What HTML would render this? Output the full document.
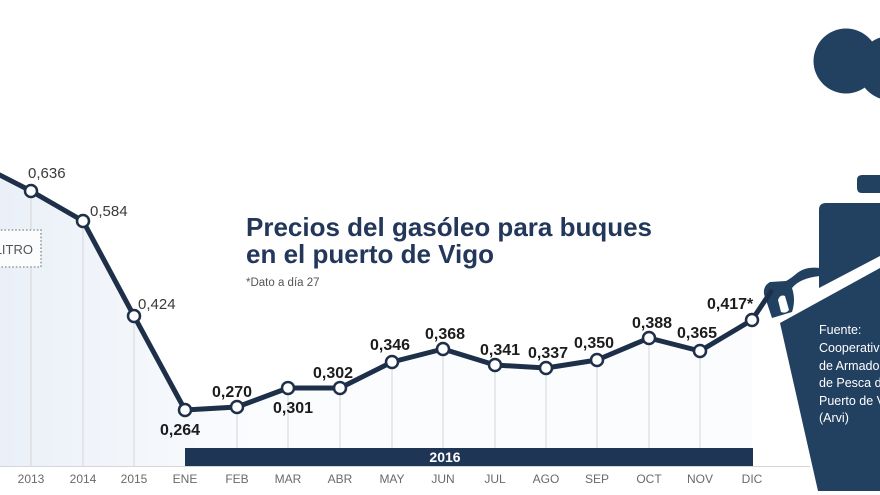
<!DOCTYPE html>
<html><head><meta charset="utf-8"><style>
html,body{margin:0;padding:0;background:#fff;}
svg{display:block;}
</style></head><body>
<svg width="880" height="495" viewBox="0 0 880 495" xmlns="http://www.w3.org/2000/svg" font-family="'Liberation Sans', sans-serif">
<defs>
<linearGradient id="area" gradientUnits="userSpaceOnUse" x1="0" y1="0" x2="260" y2="0">
<stop offset="0" stop-color="#eaf0f8"/>
<stop offset="0.6" stop-color="#f4f7fb"/>
<stop offset="1" stop-color="#fbfcfe"/>
</linearGradient>
</defs>
<rect width="880" height="495" fill="#fff"/>
<!-- area -->
<polygon fill="url(#area)" points="-10,170 31,191 83,221 134,316 185,410 237,407 288,388 340,388 392,362 443,349 495,365 546,368 597,360 649,338 700,351 752,320 752,466 -10,466"/>
<!-- gridlines -->
<g stroke="#d6d6d6" stroke-width="1">
<line x1="31" y1="191" x2="31" y2="466"/>
<line x1="83" y1="221" x2="83" y2="466"/>
<line x1="134" y1="316" x2="134" y2="466"/>
<line x1="237" y1="407" x2="237" y2="448"/>
<line x1="288" y1="388" x2="288" y2="448"/>
<line x1="340" y1="388" x2="340" y2="448"/>
<line x1="392" y1="362" x2="392" y2="448"/>
<line x1="443" y1="349" x2="443" y2="448"/>
<line x1="495" y1="365" x2="495" y2="448"/>
<line x1="546" y1="368" x2="546" y2="448"/>
<line x1="597" y1="360" x2="597" y2="448"/>
<line x1="649" y1="338" x2="649" y2="448"/>
<line x1="700" y1="351" x2="700" y2="448"/>
<line x1="0" y1="466.5" x2="810" y2="466.5"/>
</g>
<!-- ITRO box -->
<rect x="-10" y="230" width="51" height="37" fill="#fbfcfe" stroke="#9a9a9a" stroke-width="1.6" stroke-dasharray="1.6 2"/>
<text x="33" y="254" text-anchor="end" font-size="13" fill="#555">LITRO</text>
<!-- 2016 bar -->
<rect x="185" y="448" width="568" height="18" fill="#1f3556"/>
<text x="445" y="462" text-anchor="middle" font-size="14" font-weight="bold" fill="#fff">2016</text>
<!-- pump -->
<g fill="#22405f">
<circle cx="846" cy="61" r="32.5"/>
<circle cx="890" cy="68" r="32"/>
<path d="M862,175 H880 V193 H862 Q857,193 857,188 V180 Q857,175 862,175 Z"/>
<path d="M826,203 H880 V256 L819,288 V210 Q819,203 826,203 Z"/>
<path d="M780,323 L880,268 V491 H818 Z"/>
<path d="M820,268 Q805,266 796,274 Q790,279 786,281 L770,282 Q763,286 764,294 L772,318 L792,312 Q796,300 792,288 Q800,278 820,276 Z"/>
</g>
<path d="M778,300 Q780,294 785,296 L789,310 Q786,314 781,312 Z" fill="#fff"/>
<!-- main line -->
<polyline fill="none" stroke="#1e3049" stroke-width="5" stroke-linejoin="round" points="-10,170 31,191 83,221 134,316 185,410 237,407 288,388 340,388 392,362 443,349 495,365 546,368 597,360 649,338 700,351 752,320 772,290"/>
<g fill="#fff" stroke="#1e3049" stroke-width="2.5">
<circle cx="31" cy="191" r="6"/>
<circle cx="83" cy="221" r="6"/>
<circle cx="134" cy="316" r="6"/>
<circle cx="185" cy="410" r="6"/>
<circle cx="237" cy="407" r="6"/>
<circle cx="288" cy="388" r="6"/>
<circle cx="340" cy="388" r="6"/>
<circle cx="392" cy="362" r="6"/>
<circle cx="443" cy="349" r="6"/>
<circle cx="495" cy="365" r="6"/>
<circle cx="546" cy="368" r="6"/>
<circle cx="597" cy="360" r="6"/>
<circle cx="649" cy="338" r="6"/>
<circle cx="700" cy="351" r="6"/>
<circle cx="752" cy="320" r="6"/>
</g>
<!-- year value labels -->
<g font-size="15" fill="#3a3a3a">
<text x="28" y="178">0,636</text>
<text x="90" y="216">0,584</text>
<text x="138" y="309">0,424</text>
</g>
<g font-size="16" font-weight="bold" fill="#1c1c1c">
<text x="160" y="435">0,264</text>
<text x="212" y="397">0,270</text>
<text x="273" y="413">0,301</text>
<text x="313" y="378">0,302</text>
<text x="370" y="350">0,346</text>
<text x="425" y="339">0,368</text>
<text x="480" y="355">0,341</text>
<text x="528" y="358">0,337</text>
<text x="574" y="348">0,350</text>
<text x="632" y="328">0,388</text>
<text x="677" y="338">0,365</text>
<text x="707" y="309">0,417*</text>
</g>
<!-- axis labels -->
<g font-size="12" fill="#6a6a6a" text-anchor="middle">
<text x="31" y="483">2013</text>
<text x="83" y="483">2014</text>
<text x="134" y="483">2015</text>
<text x="185" y="483">ENE</text>
<text x="237" y="483">FEB</text>
<text x="288" y="483">MAR</text>
<text x="340" y="483">ABR</text>
<text x="392" y="483">MAY</text>
<text x="443" y="483">JUN</text>
<text x="495" y="483">JUL</text>
<text x="546" y="483">AGO</text>
<text x="597" y="483">SEP</text>
<text x="649" y="483">OCT</text>
<text x="700" y="483">NOV</text>
<text x="752" y="483">DIC</text>
</g>
<!-- title -->
<g font-size="26" font-weight="bold" fill="#22375a">
<text x="246" y="236">Precios del gasóleo para buques</text>
<text x="246" y="263">en el puerto de Vigo</text>
</g>
<text x="246" y="286" font-size="11.5" fill="#555">*Dato a día 27</text>
<!-- source -->
<g font-size="12.5" fill="#fff">
<text x="819" y="334">Fuente:</text>
<text x="819" y="352">Cooperativa</text>
<text x="819" y="370">de Armadores</text>
<text x="819" y="387">de Pesca del</text>
<text x="819" y="405">Puerto de Vigo</text>
<text x="819" y="422">(Arvi)</text>
</g>
</svg>
</body></html>
